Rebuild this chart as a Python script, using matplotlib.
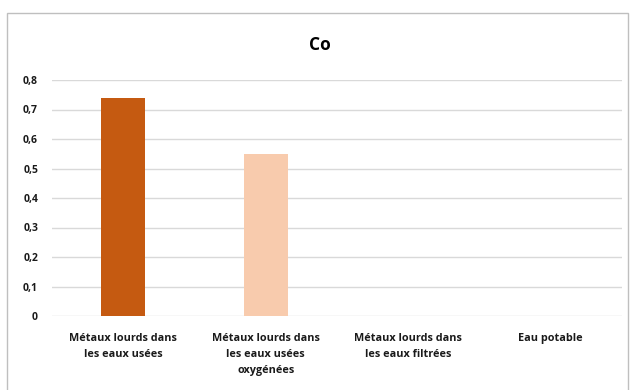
import numpy as np
import matplotlib.pyplot as plt
from matplotlib.patches import Rectangle

categories = [
    "Métaux lourds dans\nles eaux usées",
    "Métaux lourds dans\nles eaux usées\noxygénées",
    "Métaux lourds dans\nles eaux filtrées",
    "Eau potable",
]
values = [0.74, 0.55, 0.0, 0.0]
colors = ["#c55a11", "#f8cbad", "#a5a5a5", "#a5a5a5"]
yticks = [0, 0.1, 0.2, 0.3, 0.4, 0.5, 0.6, 0.7, 0.8]
ytick_labels = ["0", "0,1", "0,2", "0,3", "0,4", "0,5", "0,6", "0,7", "0,8"]

plt.rcParams["font.family"] = ["Open Sans", "DejaVu Sans"]

fig = plt.figure(figsize=(6.3, 3.9), dpi=100)
# chart frame
fig.patches.append(Rectangle((7 / 630, -0.01), 621 / 630, 1 - 13 / 390 + 0.01,
                             transform=fig.transFigure, fill=False,
                             edgecolor="#bfbfbf", linewidth=1.0))

ax = fig.add_axes([52 / 630, 74 / 390, 570 / 630, (316 - 80) / 390])
x = np.arange(len(categories))
ax.bar(x, values, width=0.31, color=colors, zorder=3)

ax.set_xlim(-0.5, len(categories) - 0.5)
ax.set_ylim(0, 0.8)
ax.set_yticks(yticks)
ax.set_yticklabels(ytick_labels, fontsize=7.5, fontweight="bold", color="#1a1a1a")
ax.set_xticks(x)
ax.set_xticklabels(categories, fontsize=7.8, fontweight="bold", color="#1a1a1a",
                   linespacing=1.65)
ax.tick_params(length=0, pad=10)
ax.tick_params(axis="x", pad=12)
ax.grid(axis="y", color="#d9d9d9", linewidth=1.0, zorder=0)
for side in ["top", "right", "left", "bottom"]:
    ax.spines[side].set_visible(False)

fig.text(320 / 630, 1 - 45 / 390, "Co", ha="center", va="center",
         fontsize=12.5, fontweight="bold", color="#000000")

fig.savefig("out.png", dpi=100)
